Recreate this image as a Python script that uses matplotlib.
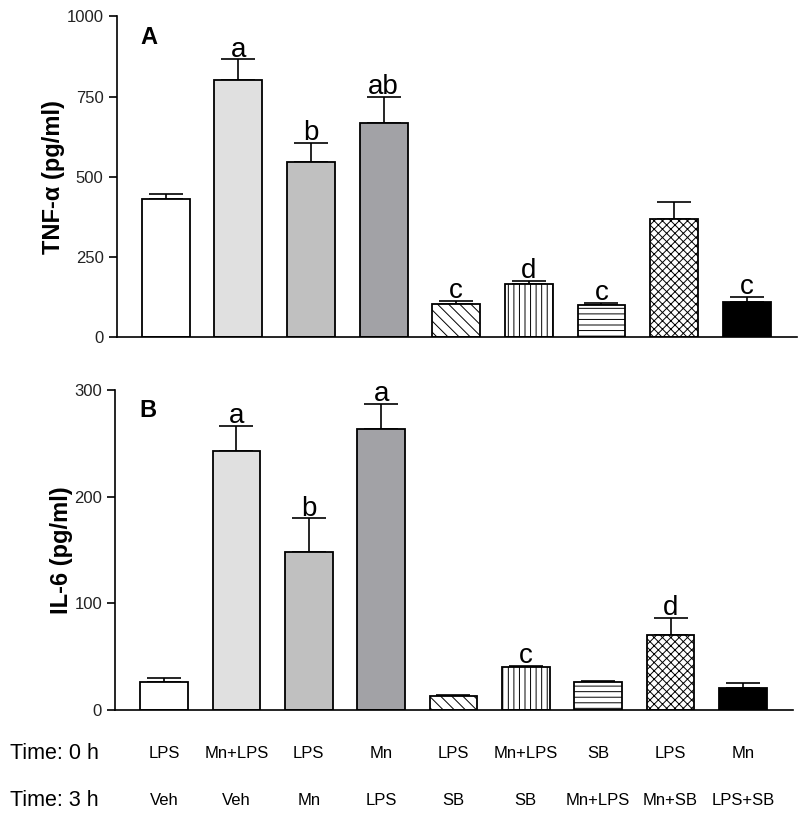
import numpy as np
import matplotlib
matplotlib.use('Agg')
import matplotlib.pyplot as plt

plt.rcParams['font.family'] = ['Liberation Sans', 'DejaVu Sans']
plt.rcParams['hatch.linewidth'] = 0.7

# treatment at 0 h / 3 h
time0 = ['LPS', 'Mn+LPS', 'LPS', 'Mn', 'LPS', 'Mn+LPS', 'SB', 'LPS', 'Mn']
time3 = ['Veh', 'Veh', 'Mn', 'LPS', 'SB', 'SB', 'Mn+LPS', 'Mn+SB', 'LPS+SB']

tnf_mean = [429, 800, 546, 666, 103, 165, 100, 369, 110]
tnf_err = [17, 66, 59, 83, 10, 9, 6, 52, 14]
tnf_letters = ['', 'a', 'b', 'ab', 'c', 'd', 'c', '', 'c']

il6_mean = [26, 243, 148, 263, 13.4, 40, 26, 70, 21]
il6_err = [3.7, 23.5, 31.5, 24, 0.3, 1.5, 1.2, 16, 4]
il6_letters = ['', 'a', 'b', 'a', '', 'c', '', 'd', '']

faces = ['white', '#e0e0e0', '#c0c0c0', '#a2a2a6', 'white', 'white', 'white', 'white', 'black']
hatches = [None, None, None, None, '\\\\\\', '|||', '---', 'xxxx', None]

fig = plt.figure(figsize=(8, 8.17), dpi=100)
ax1 = fig.add_axes([0.146, 0.5875, 0.85, 0.3925])
ax2 = fig.add_axes([0.144, 0.131, 0.847, 0.3917])

x = np.arange(len(time0))


def draw_panel(ax, means, errs, letters, ymax, yticks, ylabel, panel):
    for i in x:
        ax.bar(i, means[i], width=0.66, color=faces[i], edgecolor='black',
               linewidth=1.3, hatch=hatches[i], zorder=2)
    ax.errorbar(x, means, yerr=[np.zeros(len(errs)), errs], fmt='none',
                ecolor='black', elinewidth=1.2, capsize=12, capthick=1.2, zorder=1)
    for i, lab in enumerate(letters):
        if lab:
            ax.annotate(lab, (i, means[i] + errs[i]), xytext=(0, 2),
                        textcoords='offset points', ha='center', va='baseline',
                        fontsize=20)
    ax.set_xlim(-0.675, 8.69)
    ax.set_ylim(0, ymax)
    ax.set_yticks(yticks)
    ax.set_xticks([])
    ax.spines['top'].set_visible(False)
    ax.spines['right'].set_visible(False)
    ax.spines['left'].set_linewidth(1.2)
    ax.spines['bottom'].set_linewidth(1.2)
    ax.tick_params(axis='y', direction='out', length=6, width=1.2,
                   labelsize=12, labelcolor='#222222')
    ax.set_ylabel(ylabel, fontsize=17, fontweight='bold', labelpad=1)
    ax.text(0.035, 0.935, panel, transform=ax.transAxes, fontsize=17,
            fontweight='bold', ha='left', va='center')


draw_panel(ax1, tnf_mean, tnf_err, tnf_letters, 1000, [0, 250, 500, 750, 1000],
           'TNF-\u03b1 (pg/ml)', 'A')
draw_panel(ax2, il6_mean, il6_err, il6_letters, 300, [0, 100, 200, 300],
           'IL-6 (pg/ml)', 'B')

# treatment table below the lower panel
row_y = [0.078, 0.0196]
for ry, title, labels in zip(row_y, ['Time: 0 h', 'Time: 3 h'], [time0, time3]):
    fig.text(0.0125, ry, title, fontsize=15.5, ha='left', va='center')
    for i, lab in enumerate(labels):
        xf = ax2.transData.transform((i, 0))
        xf = fig.transFigure.inverted().transform(xf)[0]
        fig.text(xf, ry, lab, fontsize=12, ha='center', va='center')

fig.savefig('out.png', dpi=100)
